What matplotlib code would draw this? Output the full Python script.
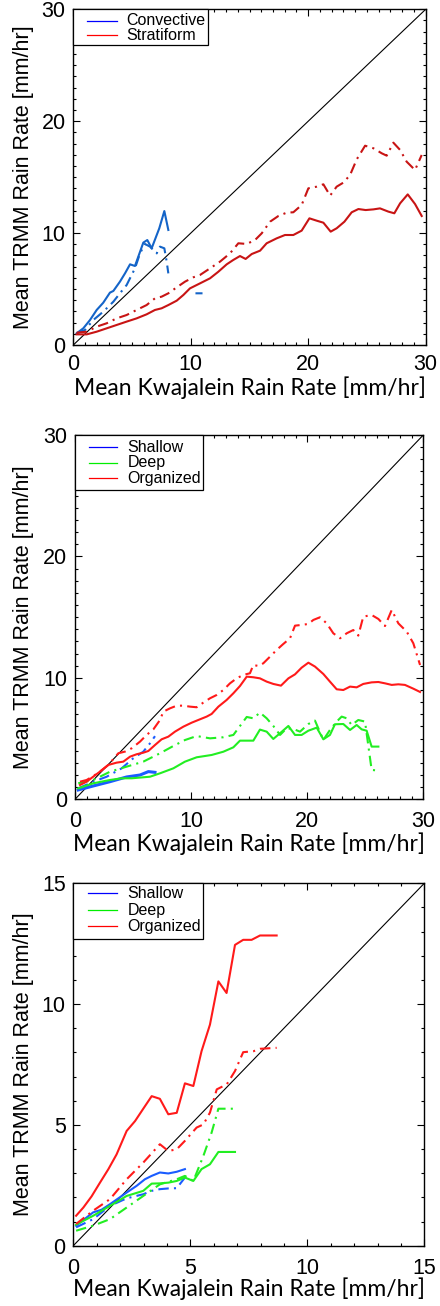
import numpy as np
import matplotlib
matplotlib.use("Agg")
import matplotlib.pyplot as plt
from matplotlib.lines import Line2D
from matplotlib.patches import Rectangle
from matplotlib.ticker import MultipleLocator

nan = np.nan

# Convective / stratiform (top panel)
conv_x = [0.28, 0.85, 1.42, 1.99, 2.55, 3.12, 3.41, 3.97, 4.40, 4.83, 5.25,
          5.96, 6.30, 6.67, 7.32, 7.75, 8.09]
conv_y = [1.04, 1.49, 2.23, 3.13, 3.78, 4.68, 4.83, 5.66, 6.40, 7.21, 7.06,
          9.15, 9.38, 8.64, 10.43, 11.97, 10.28]
conv_dx = [0.28, 0.99, 1.70, 2.55, 3.41, 3.97, 4.54, 5.25, 5.68, 6.10, 6.53,
           7.10, 7.38, 7.75, 7.95, 8.09, nan, 10.40, 11.00]
conv_dy = [1.04, 1.34, 2.23, 2.98, 3.87, 4.62, 5.36, 6.85, 8.19, 9.03, 8.79,
           8.19, 8.79, 8.64, 7.45, 6.40, nan, 4.62, 4.62]

strat_x = [0.28, 1.14, 1.99, 2.84, 3.69, 4.54, 5.39, 6.24, 6.95, 7.52, 8.09,
           8.80, 9.37, 9.93, 10.79, 11.64, 12.35, 13.06, 13.62, 14.19, 14.67,
           15.19, 15.90, 16.46, 17.31, 18.02, 18.73, 19.44, 20.10, 20.72,
           21.29, 21.91, 22.42, 23.08, 23.70, 24.27, 24.89, 25.55, 26.11,
           26.82, 27.33, 27.82, 28.47, 29.09, 29.66]
strat_y = [0.95, 0.95, 1.19, 1.49, 1.79, 2.09, 2.38, 2.74, 3.13, 3.28, 3.57,
           3.96, 4.47, 5.06, 5.51, 5.96, 6.55, 7.21, 7.60, 7.95, 7.69, 8.13,
           8.43, 9.09, 9.53, 9.83, 9.83, 10.22, 11.32, 11.11, 10.93, 10.13,
           10.43, 11.02, 11.86, 12.15, 12.06, 12.12, 12.21, 11.92, 11.77,
           12.66, 13.46, 12.60, 11.53]
strat_dx = [0.28, 1.14, 1.99, 2.84, 3.69, 4.54, 5.39, 6.24, 6.95, 7.52, 8.09,
            8.80, 9.51, 10.22, 10.79, 11.64, 12.49, 13.34, 14.05, 14.76,
            15.47, 16.04, 16.75, 17.46, 18.17, 18.73, 19.44, 20.01, 20.72,
            21.29, 21.86, 22.42, 22.99, 23.56, 24.13, 24.84, 25.55, 26.26,
            26.68, 27.25, 27.82, 28.38, 29.09, 29.66]
strat_dy = [1.10, 1.19, 1.64, 1.94, 2.38, 2.68, 3.13, 3.57, 4.17, 4.32, 4.62,
            5.15, 5.66, 6.05, 6.26, 6.85, 7.45, 8.19, 9.09, 9.03, 9.38, 9.98,
            11.02, 11.53, 11.83, 11.86, 12.51, 14.00, 14.15, 14.36, 13.35,
            14.15, 14.51, 15.19, 16.59, 17.81, 17.58, 17.13, 16.92, 18.08,
            17.43, 16.38, 15.64, 16.98]

# Shallow / deep / organized (middle panel)
sh2_x = [0.28, 1.58, 3.01, 4.45, 5.60, 6.32, 6.89]
sh2_y = [0.77, 1.10, 1.45, 1.84, 2.00, 2.28, 2.22]
sh2_dx = [0.28, 1.58, 2.73, 4.02, 5.02, 5.88, 6.46, 6.89]
sh2_dy = [0.90, 1.45, 1.86, 2.55, 3.38, 3.92, 4.61, 5.20]

dp2_x = [0.28, 1.58, 3.01, 4.02, 4.88, 6.46, 7.32, 8.47, 9.47, 10.48, 11.77,
         12.78, 13.64, 14.21, 15.36, 15.93, 16.51, 17.08, 17.66, 18.38,
         18.95, 19.52, 20.10, 20.82, 21.39, 21.96, 22.39, 23.11, 23.69,
         24.26, 24.69, 25.12, 25.55, 26.13]
dp2_y = [0.90, 1.32, 1.59, 1.73, 1.73, 1.86, 2.14, 2.55, 3.10, 3.46, 3.65,
         3.92, 4.28, 4.83, 4.83, 5.74, 5.57, 4.97, 5.44, 6.04, 5.30, 5.30,
         5.65, 5.90, 4.94, 5.30, 6.18, 6.20, 5.71, 6.12, 5.76, 5.65, 4.34,
         4.34]
dp2_dx = [0.28, 1.58, 3.01, 4.45, 5.88, 7.32, 8.47, 9.47, 10.48, 11.63,
          12.78, 13.64, 14.79, 15.36, 15.93, 16.51, 17.08, 17.66, 18.23,
          18.81, 19.38, 20.10, 20.67, 21.39, 21.96, 22.54, 22.97, 23.40,
          23.83, 24.40, 24.98, 25.55, 26.13]
dp2_dy = [1.32, 1.59, 2.27, 2.69, 3.10, 3.79, 4.39, 4.88, 5.21, 5.02, 5.11,
          5.30, 6.78, 6.67, 7.14, 6.67, 6.04, 5.30, 5.85, 5.79, 5.57, 6.20,
          6.48, 4.89, 5.71, 6.40, 6.81, 6.67, 6.12, 6.53, 6.40, 2.42, 2.36]

org2_x = [0.43, 1.00, 1.58, 2.15, 2.87, 3.59, 4.16, 4.74, 5.31, 5.89, 6.32,
          6.89, 7.46, 8.04, 8.61, 9.33, 10.05, 10.77, 11.34, 11.77, 12.35,
          13.06, 13.64, 14.21, 14.79, 15.36, 15.93, 16.51, 17.08, 17.74,
          18.38, 18.95, 19.52, 20.10, 20.67, 21.39, 21.96, 22.54, 23.11,
          23.69, 24.26, 24.83, 25.55, 26.13, 26.70, 27.28, 27.85, 28.42,
          29.14, 29.72]
org2_y = [1.18, 1.45, 1.87, 2.28, 2.83, 3.02, 3.10, 3.51, 3.71, 3.84, 3.98,
          4.47, 4.94, 5.16, 5.57, 5.98, 6.31, 6.59, 6.81, 7.03, 7.63, 8.18,
          8.73, 9.33, 10.10, 10.05, 9.96, 9.69, 9.50, 9.36, 9.96, 10.29,
          10.84, 11.25, 10.93, 10.32, 9.69, 9.06, 9.00, 9.28, 9.22, 9.50,
          9.63, 9.66, 9.55, 9.42, 9.47, 9.42, 9.11, 8.84]
org2_dx = [0.43, 1.00, 1.58, 2.15, 2.87, 3.73, 4.31, 4.88, 5.60, 6.17, 6.75,
           7.32, 7.61, 8.18, 8.76, 9.33, 9.91, 10.48, 11.05, 11.63, 12.20,
           12.78, 13.35, 13.92, 14.50, 15.07, 15.36, 15.79, 16.22, 16.80,
           17.37, 17.94, 18.52, 18.95, 19.52, 20.10, 20.53, 21.10, 21.68,
           22.25, 22.83, 23.40, 23.97, 24.40, 24.83, 25.55, 26.13, 26.70,
           27.28, 27.85, 28.57, 29.14, 29.72]
org2_dy = [1.45, 1.59, 1.92, 2.28, 2.83, 3.79, 3.93, 4.20, 4.75, 5.30, 5.76,
           6.53, 7.22, 7.49, 7.71, 7.71, 7.63, 7.58, 7.96, 8.32, 8.59, 9.00,
           9.55, 9.96, 10.24, 10.38, 11.06, 10.98, 11.20, 11.75, 12.30,
           12.79, 13.26, 14.30, 14.36, 14.44, 14.77, 14.99, 14.49, 13.67,
           13.26, 13.67, 13.94, 13.48, 15.04, 15.18, 14.85, 14.27, 15.59,
           14.49, 13.81, 12.85, 11.06]

# Shallow / deep / organized (bottom panel)
sh3_x = [0.12, 0.85, 1.21, 1.57, 2.28, 2.71, 3.06, 3.35, 3.70, 4.06, 4.42, 4.77]
sh3_y = [0.83, 1.38, 1.49, 1.72, 2.20, 2.48, 2.75, 2.89, 3.03, 2.99, 3.06, 3.17]
sh3_dx = [0.12, 0.85, 1.57, 2.28, 2.99, 3.35, 3.70, 4.06, 4.42, 4.77]
sh3_dy = [0.76, 1.10, 1.65, 1.96, 2.13, 2.27, 2.34, 2.37, 2.38, 2.82]

dp3_x = [0.12, 0.85, 1.57, 2.28, 2.99, 3.35, 3.70, 4.06, 4.42, 4.77, 5.13,
         5.48, 5.84, 6.20, 6.91]
dp3_y = [0.87, 1.24, 1.65, 2.06, 2.27, 2.57, 2.58, 2.61, 2.68, 2.82, 2.68,
         3.17, 3.37, 3.88, 3.88]
dp3_dx = [0.12, 0.85, 1.57, 2.28, 2.99, 3.70, 4.42, 4.77, 5.13, 5.56, 5.91,
          6.20, 6.91]
dp3_dy = [0.62, 0.83, 1.10, 1.58, 2.06, 2.54, 2.75, 2.89, 2.68, 3.72, 4.68,
          5.67, 5.67]

org3_x = [0.12, 0.43, 0.78, 1.14, 1.50, 1.85, 2.28, 2.64, 2.99, 3.35, 3.70,
          4.06, 4.42, 4.77, 5.13, 5.48, 5.84, 6.20, 6.55, 6.91, 7.26, 7.62,
          7.98, 8.69]
org3_y = [1.24, 1.58, 2.04, 2.61, 3.17, 3.78, 4.75, 5.16, 5.67, 6.19, 6.08,
          5.44, 5.50, 6.72, 6.61, 8.05, 9.15, 10.94, 10.46, 12.45, 12.66,
          12.66, 12.84, 12.84]
org3_dx = [0.12, 0.85, 1.57, 2.28, 2.99, 3.70, 4.06, 4.42, 4.77, 5.27, 5.56,
           5.84, 6.13, 6.56, 6.91, 7.26, 7.70, 7.98, 8.69]
org3_dy = [0.90, 1.45, 1.93, 2.75, 3.44, 4.20, 3.92, 3.99, 4.34, 4.89, 5.02,
           5.51, 6.47, 6.68, 7.23, 8.01, 8.05, 8.15, 8.19]

W, H = 440, 1306
XLAB_FONT = "Lato"
DASHDOT = (0, (5, 2.5, 1, 2.5))

plt.rcParams["font.family"] = "Liberation Sans"

fig = plt.figure(figsize=(W / 100, H / 100), dpi=100)


def add_panel(l, t, r, b, vmax, major, label_y, pad_x):
    ax = fig.add_axes([l / W, 1 - b / H, (r - l) / W, (b - t) / H])
    ax.set_xlim(0, vmax)
    ax.set_ylim(0, vmax)
    ax.plot([0, vmax], [0, vmax], color="black", lw=0.8, zorder=1)
    ax.xaxis.set_major_locator(MultipleLocator(major))
    ax.yaxis.set_major_locator(MultipleLocator(major))
    ax.xaxis.set_minor_locator(MultipleLocator(1))
    ax.yaxis.set_minor_locator(MultipleLocator(1))
    ax.tick_params(which="both", direction="in", top=True, right=True,
                   width=0.8, colors="black", labelsize=15.5,
                   labelfontfamily="Liberation Sans")
    ax.tick_params(which="major", length=5)
    ax.tick_params(which="minor", length=2.5)
    ax.tick_params(axis="x", pad=pad_x)
    ax.tick_params(axis="y", pad=5.5)
    for sp in ax.spines.values():
        sp.set_linewidth(1.0)
    ax.set_xlabel("Mean Kwajalein Rain Rate [mm/hr]", fontfamily=XLAB_FONT,
                  fontsize=16.5, va="baseline")
    ax.xaxis.set_label_coords(0.5, label_y)
    ax.set_ylabel("Mean TRMM Rain Rate [mm/hr]", fontfamily="Liberation Sans",
                  fontsize=15.5, va="center")
    ax.yaxis.set_label_coords(-(l - 24) / (r - l), 0.5)
    return ax


def add_key(ax, labels, colors, box_w, box_h, rows, x0, x1, xt):
    # key box in the upper left corner, sizes given in pixels
    bb = ax.get_position()
    aw, ah = bb.width * W, bb.height * H
    ax.add_patch(Rectangle((0, 1 - box_h / ah), box_w / aw, box_h / ah,
                           transform=ax.transAxes, facecolor="white",
                           edgecolor="black", lw=0.9, zorder=5, clip_on=False))
    for lab, col, ry in zip(labels, colors, rows):
        yy = 1 - ry / ah
        ax.add_line(Line2D([x0 / aw, x1 / aw], [yy, yy], transform=ax.transAxes,
                           color=col, lw=0.9, zorder=6))
        ax.text(xt / aw, yy, lab, transform=ax.transAxes,
                fontfamily="Liberation Sans", fontsize=11.5, va="center",
                ha="left", zorder=6)


# top panel
ax1 = add_panel(73.3, 9.3, 425.7, 345, 30, 10, -0.148, 6.8)
ax1.plot(conv_x, conv_y, color="#1464c8", lw=1.5)
ax1.plot(conv_dx, conv_dy, color="#1464c8", lw=1.5, linestyle=DASHDOT)
ax1.plot(strat_x, strat_y, color="#c81414", lw=1.5)
ax1.plot(strat_dx, strat_dy, color="#c81414", lw=1.5, linestyle=DASHDOT)
add_key(ax1, ["Convective", "Stratiform"], ["#0000ff", "#ff0000"],
        135, 36, [11.4, 25.7], 14, 44, 53)

# middle panel
blue, green, red = "#1a5cff", "#22ee22", "#ff1a1a"
ax2 = add_panel(75, 435, 423.3, 799.3, 30, 10, -0.141, 8.6)
ax2.plot(sh2_x, sh2_y, color=blue, lw=2.2)
ax2.plot(sh2_dx, sh2_dy, color=blue, lw=1.5, linestyle=DASHDOT)
ax2.plot(dp2_x, dp2_y, color=green, lw=1.5)
ax2.plot(dp2_dx, dp2_dy, color=green, lw=1.5, linestyle=DASHDOT)
ax2.plot(org2_x, org2_y, color=red, lw=1.5)
ax2.plot(org2_dx, org2_dy, color=red, lw=1.5, linestyle=DASHDOT)
add_key(ax2, ["Shallow", "Deep", "Organized"], ["#0000ff", "#00ee00", "#ff0000"],
        128.3, 55, [12.3, 27.7, 43.3], 14.3, 42.3, 52.7)

# bottom panel
ax3 = add_panel(73.3, 883.3, 424.3, 1245.7, 15, 5, -0.140, 8.6)
ax3.plot(sh3_x, sh3_y, color=blue, lw=1.5)
ax3.plot(sh3_dx, sh3_dy, color=blue, lw=1.5, linestyle=DASHDOT)
ax3.plot(dp3_x, dp3_y, color=green, lw=1.5)
ax3.plot(dp3_dx, dp3_dy, color=green, lw=1.5, linestyle=DASHDOT)
ax3.plot(org3_x, org3_y, color=red, lw=1.5)
ax3.plot(org3_dx, org3_dy, color=red, lw=1.5, linestyle=DASHDOT)
add_key(ax3, ["Shallow", "Deep", "Organized"], ["#0000ff", "#00ee00", "#ff0000"],
        130, 55.7, [10, 26.7, 42.7], 15, 44, 54.4)

fig.savefig("out.png", dpi=100)
